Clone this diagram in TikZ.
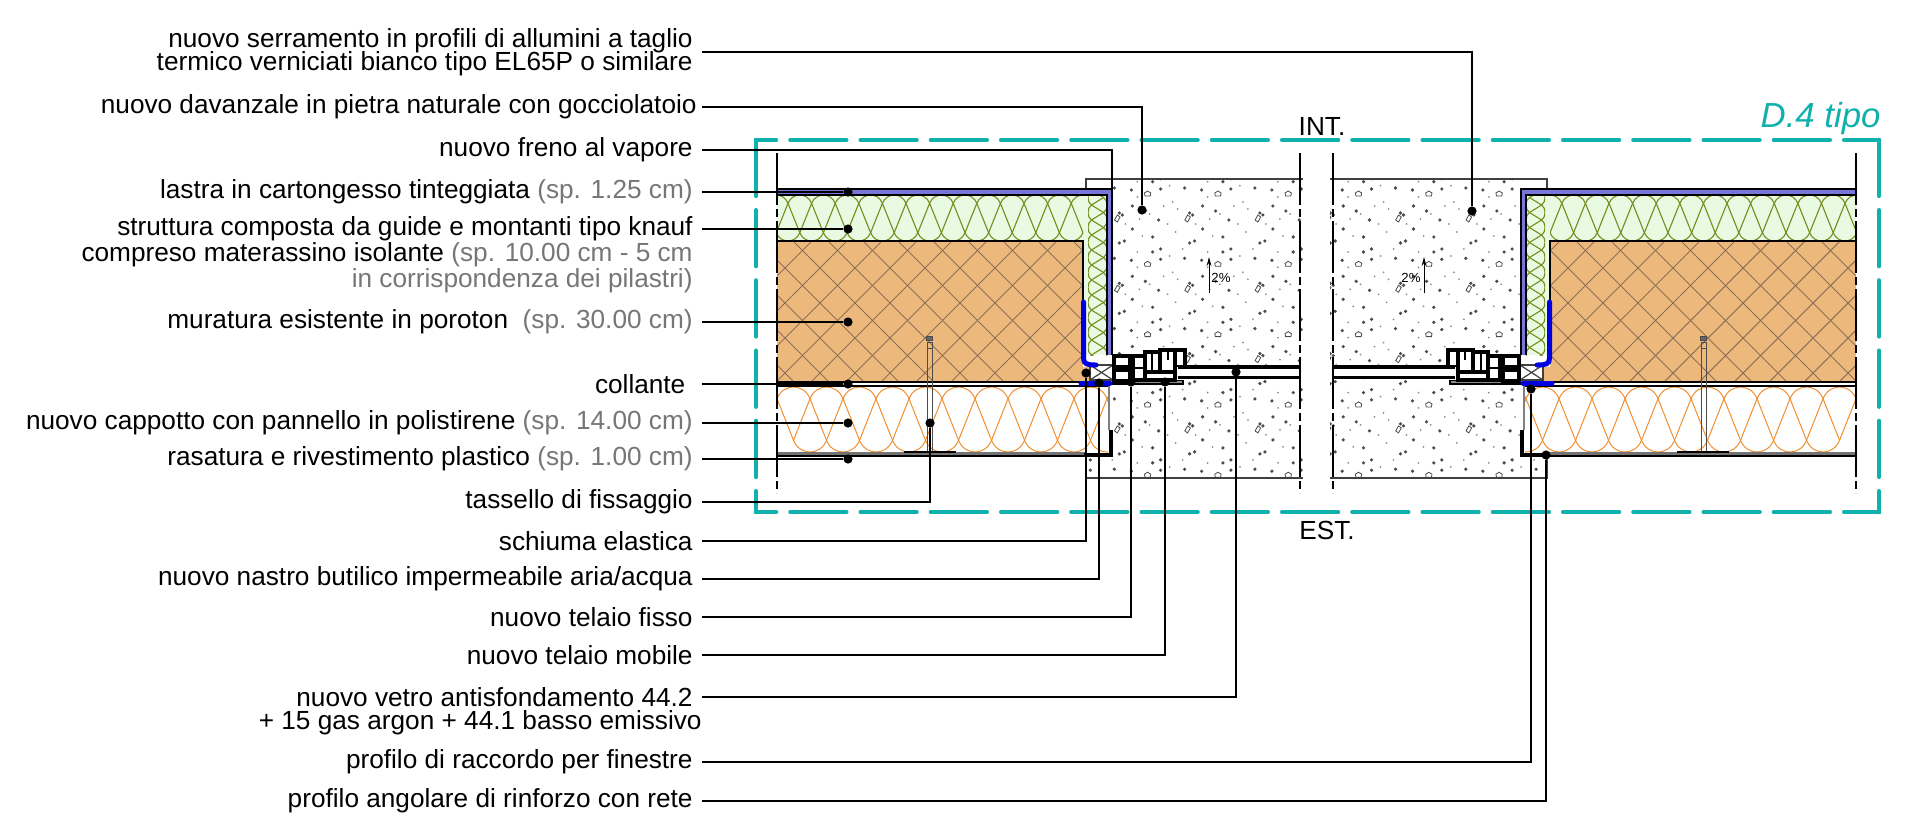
\documentclass[tikz,border=0pt]{standalone}
\usepackage{fontspec}
\setmainfont{Liberation Sans}
\usepackage{xcolor}
\usetikzlibrary{arrows.meta,positioning}

\definecolor{frameteal}{RGB}{16,176,172}
\definecolor{brickfill}{RGB}{237,184,124}
\definecolor{brickhatch}{RGB}{138,112,86}
\definecolor{greenfill}{RGB}{232,250,226}
\definecolor{greenline}{RGB}{118,140,30}
\definecolor{orangeline}{RGB}{240,142,48}
\definecolor{plasterfill}{RGB}{120,118,216}
\definecolor{tapeblue}{RGB}{0,0,224}
\definecolor{notegray}{RGB}{118,118,118}

\newcommand{\spess}[1]{\textcolor{notegray}{#1}}

% insulation batt: u0,u1,vtop,vbot,first crossing,pitch,style
\newcommand{\batt}[7]{%
  \begin{scope}
    \clip (#1,#3) rectangle (#2,#4);
    \pgfmathsetmacro{\vct}{#3+0.18*(#4-#3)}
    \pgfmathsetmacro{\vcb}{#4-0.18*(#4-#3)}
    \pgfmathsetmacro{\rise}{(\vct-#3)/0.75}
    \pgfmathsetmacro{\runx}{\rise*0.5*#6/(\vcb-\vct)}
    \pgfmathtruncatemacro{\nb}{(#2-#1)/#6+2}
    \foreach \k in {0,...,\nb} {
      \pgfmathsetmacro{\ua}{#5+\k*#6}
      \draw[#7] (\ua,\vct) .. controls (\ua+\runx,\vct-\rise) and (\ua+#6-\runx,\vct-\rise) .. (\ua+#6,\vct);
      \draw[#7] (\ua+0.5*#6,\vcb) .. controls (\ua+0.5*#6+\runx,\vcb+\rise) and (\ua+1.5*#6-\runx,\vcb+\rise) .. (\ua+1.5*#6,\vcb);
      \draw[#7] (\ua,\vct) -- (\ua+0.5*#6,\vcb) (\ua,\vct) -- (\ua-0.5*#6,\vcb);
    }
  \end{scope}}

% one half of the section, drawn on the left and mirrored on the right
\newcommand{\wallside}{%
  % concrete sill outline
  \draw[thinline] (1303,179) -- (1086,179) -- (1086,189);
  \draw[thinline] (1086,456) -- (1086,478) -- (1303,478);
  % brick
  \fill[brickfill] (777,241) rectangle (1083,382);
  \begin{scope}
    \clip (777,241) rectangle (1083,382);
    \foreach \c in {1018,1053,...,1473}
      \draw[hatchline] (777,\c-777) -- (1083,\c-1083);
    \foreach \d in {412,447,...,867}
      \draw[hatchline] (777,777-\d) -- (1083,1083-\d);
  \end{scope}
  % stud wall insulation
  \fill[greenfill] (777,195) rectangle (1083,241);
  \fill[greenfill] (1083,195) rectangle (1107,355);
  \batt{777}{1083}{195}{241}{764.4}{23.6}{greenbatt}
  \begin{scope}[x={(0pt,-0.5pt)},y={(0.5pt,0pt)}]
    \batt{195}{355}{1088}{1107}{190}{15}{greenbatt}
  \end{scope}
  \draw[wallline] (777,241) -- (1083,241) -- (1083,302);
  % plasterboard
  \fill[plasterfill] (777,190) rectangle (1112,195);
  \fill[plasterfill] (1107,190) rectangle (1112,355);
  \draw[black, line width=1.3pt] (777,189) -- (1112,189) -- (1112,355);
  \draw[black, line width=0.8pt] (777,195) -- (1107,195) -- (1107,355);
  % adhesive and external insulation
  \draw[wallline] (777,382) -- (1083,382);
  \draw[wallline] (777,386) -- (1108,386);
  \batt{777}{1108}{387}{452}{777}{33}{orangebatt}
  \fill[black!55] (777,452) rectangle (1086,455);
  \draw[black, line width=0.9pt] (777,456) -- (1086,456);
  \draw[black!50, line width=1.2pt] (1109,385) -- (1109,430);
  \draw[black, line width=2.2pt] (1111,430) -- (1111,455) -- (1084,455);
  % fixing anchor
  \draw[anchorline] (927,348) -- (927,452) (932,348) -- (932,452);
  \draw[anchorline, fill=black!60] (926.5,336) rectangle (932.5,340);
  \draw[anchorline] (927,342) rectangle (932,348);
  \draw[black, line width=1pt] (904,452) -- (956,452);
  % sealing and window frame
  \fill[brickfill] (1083,367) rectangle (1090,382);
  \draw[thinline, fill=white] (1090,365) rectangle (1113,380);
  \draw[thinline] (1090,365) -- (1113,380) (1090,380) -- (1113,365);
  \draw[frameplate, fill=black!45] (1113,380.5) rectangle (1183,384);
  \draw[profile] (1114,356) rectangle (1130,367);
  \draw[profile] (1114,370) rectangle (1130,381);
  \draw[profile] (1133,356) rectangle (1145,380);
  \draw[profile] (1145,352) rectangle (1160,372);
  \draw[profile] (1160,350) rectangle (1175,373);
  \draw[profile] (1175,350) rectangle (1185,367);
  \draw[profile] (1145,372) rectangle (1175,380);
  \draw[frameplate] (1133,368) -- (1145,368) (1152,352) -- (1152,372) (1168,350) -- (1168,360);
  % tape
  \draw[bluetape] (1083.5,302) -- (1083.5,358) .. controls (1083.5,364) and (1087,365) .. (1096,365);
  \draw[bluetape] (1081,383) -- (1110,383);
  % glass
  \fill[white] (1177,367) rectangle (1300,378);
  \draw[black, line width=1.7pt] (1178,367) -- (1300,367);
  \draw[black, line width=1.1pt] (1178,377.5) -- (1300,377.5);
  % break lines
  \draw[breakline] (777,153) -- (777,493);
  \draw[breakline] (1300,153) -- (1300,493);
}

\begin{document}
\begin{tikzpicture}[
  x=0.5pt, y=-0.5pt,
  lbl/.style={anchor=east, inner xsep=4.5pt, inner ysep=0pt, align=right,
    font=\fontsize{13.1}{12}\selectfont},
  tag/.style={inner sep=0pt, font=\fontsize{13.1}{14}\selectfont},
  dot/.style={circle, fill=black, inner sep=0pt, minimum size=4.6pt},
  leader/.style={black, line width=0.55pt},
  tealframe/.style={frameteal, line width=2.3pt, line cap=round,
    dash pattern=on 27.9pt off 7.225pt},
  thinline/.style={black!75, line width=0.6pt},
  wallline/.style={black, line width=0.6pt},
  hatchline/.style={brickhatch, line width=0.5pt},
  greenbatt/.style={greenline, line width=0.55pt},
  orangebatt/.style={orangeline, line width=0.5pt},
  anchorline/.style={black!70, line width=0.4pt},
  breakline/.style={black, line width=1.3pt, dash pattern=on 26pt off 2pt on 4pt off 2pt},
  profile/.style={black, line width=1.6pt, fill=white},
  frameplate/.style={black, line width=0.9pt},
  bluetape/.style={tapeblue, line width=2.5pt, line cap=round},
  slope/.style={-{Stealth[length=4.5pt,width=2.4pt]}, black, line width=0.5pt},
  bigdot/.style={black!70},
  smalldot/.style={black!45},
  pentdot/.style={black!70, line width=0.4pt}
]
\useasboundingbox (0,0) rectangle (1920,827);

% Concrete aggregate, one tile repeated
\begin{scope}
  \clip (1113,179) -- (1303,179) -- (1303,365) -- (1113,365) -- cycle
        (1113,379) -- (1303,379) -- (1303,478) -- (1086,478) -- (1086,458) -- (1113,458) -- cycle
        (1330,179) -- (1520,179) -- (1520,365) -- (1330,365) -- cycle
        (1330,379) -- (1520,379) -- (1520,458) -- (1547,458) -- (1547,478) -- (1330,478) -- cycle;
  \foreach \tx in {1007,1077.3,...,1570} {
    \foreach \ty in {123.7,194,...,480} {
      \foreach \ax/\ay in {54/-4,13/-5,37/-6,55/12,68/17,11/26,55/35,5/43,47/47,42/49,13/55,5/58,45/21,42/19}
        \fill[bigdot] (\tx+\ax,\ty+\ay) circle (0.9pt);
      \foreach \ax/\ay in {25/8,60/3,30/15,20/30,62/25,28/38,65/42,35/55,22/62,60/58,48/30,2/20,16/12}
        \fill[smalldot] (\tx+\ax,\ty+\ay) circle (0.5pt);
      \draw[pentdot] (\tx-2.6,\ty+2) -- (\tx-3.2,\ty-1) -- (\tx,\ty-3) -- (\tx+3.2,\ty-1) -- (\tx+2.6,\ty+2) -- cycle;
      \draw[pentdot] (\tx+40,\ty+24) ++(-2.8,2) -- ++(2.8,-5) -- ++(2.8,2) -- ++(-2.8,5) -- cycle;
    }
  }
\end{scope}

% Wall and window, both sides
\wallside
\begin{scope}[shift={(2633,0)}, xscale=-1]
  \wallside
\end{scope}

% Slope marks
\coordinate (sla) at (1209,293);
\coordinate (slb) at (1209,257);
\coordinate (sra) at (1424,293);
\coordinate (srb) at (1424,257);
\draw[slope] (sla) -- (slb);
\draw[slope] (sra) -- (srb);
\node[inner sep=0pt, font=\fontsize{6.6}{7}\selectfont] (pl) at (1221,278) {2\%};
\node[inner sep=0pt, font=\fontsize{6.6}{7}\selectfont] (pr) at (1411,278) {2\%};

% Dashed detail frame
\draw[tealframe, dash phase=17.9pt] (756,140) -- (1879,140);
\draw[tealframe, dash phase=17.9pt] (756,512) -- (1879,512);
\draw[tealframe] (756,140) -- (756,512);
\draw[tealframe] (1879,140) -- (1879,512);

% Tags
\node[tag] (tint) at (1322,126) {INT.};
\node[tag] (test) at (1327,530) {EST.};
\node[anchor=base east, inner sep=0pt, text=frameteal, font=\fontsize{17.4}{18}\selectfont\itshape] (tdet) at (1881,127) {D.4 tipo};

% Labels
\node[lbl] (lser) at (702,52) {nuovo serramento in profili di allumini a taglio\ \\[-1.8pt]termico verniciati bianco tipo EL65P o similare};
\node[lbl, inner xsep=2.5pt] (ldav) at (702,107) {nuovo davanzale in pietra naturale con gocciolatoio};
\node[lbl] (lfre) at (702,150) {nuovo freno al vapore};
\node[lbl] (llas) at (702,192) {lastra in cartongesso tinteggiata \spess{(sp. 1.25 cm)}};
\node[lbl] (lstr) at (702,229) {struttura composta da guide e montanti tipo knauf};
\node[lbl] (lstb) at (702,268) {compreso materassino isolante \spess{(sp. 10.00 cm - 5 cm}\\\spess{in corrispondenza dei pilastri)}};
\node[lbl] (lmur) at (702,322) {muratura esistente in poroton \ \spess{(sp. 30.00 cm)}};
\node[lbl] (lcol) at (702,384) {collante\ };
\node[lbl] (lcap) at (702,423) {nuovo cappotto con pannello in polistirene \spess{(sp. 14.00 cm)}};
\node[lbl] (lras) at (702,459) {rasatura e rivestimento plastico \spess{(sp. 1.00 cm)}};
\node[lbl] (ltas) at (702,502) {tassello di fissaggio};
\node[lbl] (lsch) at (702,541) {schiuma elastica};
\node[lbl] (lnas) at (702,579) {nuovo nastro butilico impermeabile aria/acqua};
\node[lbl] (lfis) at (702,617) {nuovo telaio fisso};
\node[lbl] (lmob) at (702,655) {nuovo telaio mobile};
\node[lbl] (lvet) at (702,697) {nuovo vetro antisfondamento 44.2};
\node[lbl] (lveb) at (711,723) {+ 15 gas argon + 44.1 basso emissivo};
\node[lbl] (lrac) at (702,762) {profilo di raccordo per finestre};
\node[lbl] (lang) at (702,801) {profilo angolare di rinforzo con rete};

% Leader ends
\node[dot] (dser) at (1472,211) {};
\node[dot] (ddav) at (1142,210) {};
\coordinate (dfre) at (1112,189);
\node[dot] (dlas) at (848,192) {};
\node[dot] (dstr) at (848,229) {};
\node[dot] (dmur) at (848,322) {};
\node[dot] (dcol) at (848,384) {};
\node[dot] (dcap) at (848,423) {};
\node[dot] (dras) at (848,459) {};
\node[dot] (dtas) at (930,423) {};
\node[dot] (dsch) at (1086,373) {};
\node[dot] (dnas) at (1099,383) {};
\node[dot] (dfis) at (1131,382) {};
\node[dot] (dmob) at (1165,382) {};
\node[dot] (dvet) at (1236,372) {};
\node[dot] (drac) at (1531,389) {};
\node[dot] (dang) at (1546,455) {};

% Leaders
\draw[leader] (lser.east) -| (dser);
\draw[leader] (ldav.east) -| (ddav);
\draw[leader] (lfre.east) -| (dfre);
\draw[leader] (llas.east) -- (dlas);
\draw[leader] (lstr.east) -- (dstr);
\draw[leader] (lmur.east) -- (dmur);
\draw[leader] (lcol.east) -- (dcol);
\draw[leader] (lcap.east) -- (dcap);
\draw[leader] (lras.east) -- (dras);
\draw[leader] (ltas.east) -| (dtas);
\draw[leader] (lsch.east) -| (dsch);
\draw[leader] (lnas.east) -| (dnas);
\draw[leader] (lfis.east) -| (dfis);
\draw[leader] (lmob.east) -| (dmob);
\draw[leader] (lvet.east) -| (dvet);
\draw[leader] (lrac.east) -| (drac);
\draw[leader] (lang.east) -| (dang);

\end{tikzpicture}
\end{document}
